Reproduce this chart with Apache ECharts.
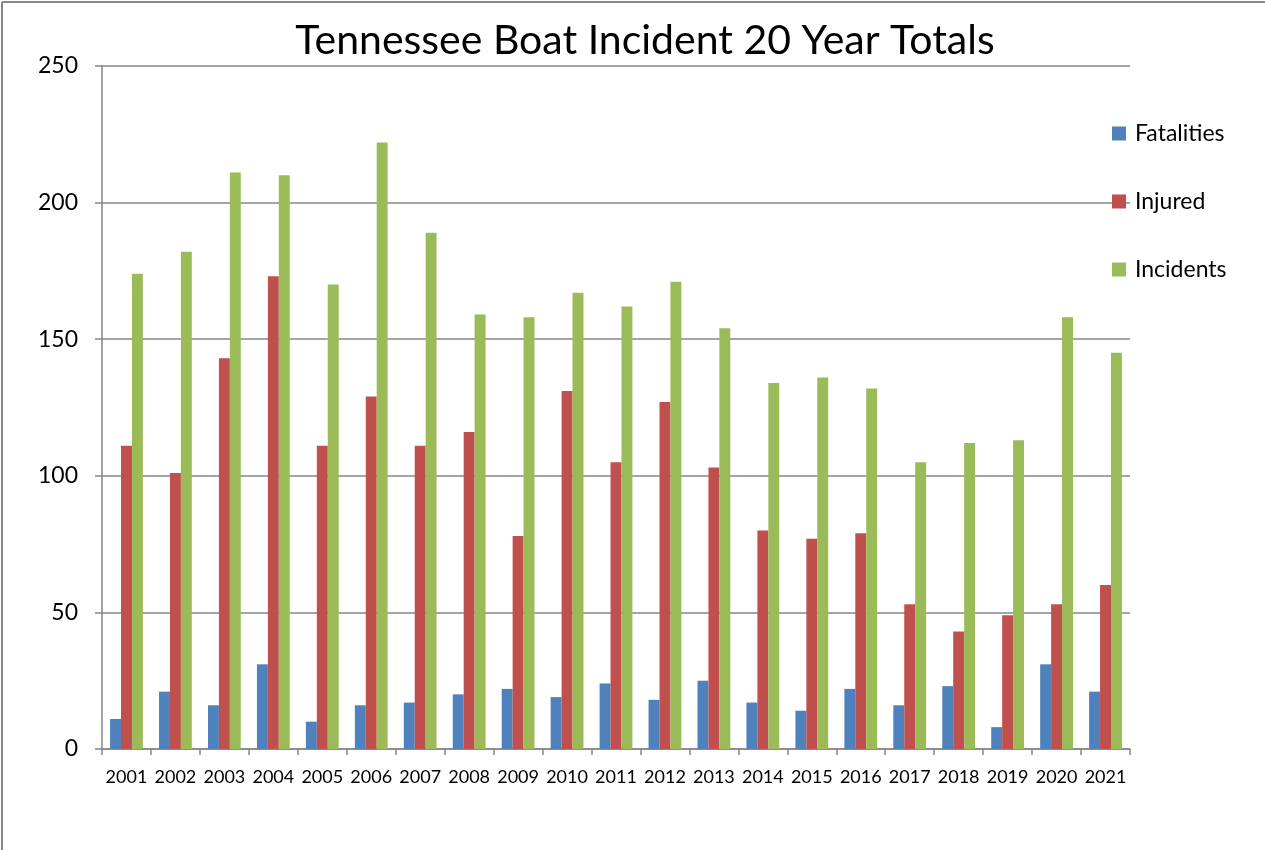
<!DOCTYPE html>
<html>
<head>
<meta charset="utf-8">
<script src="https://cdn.jsdelivr.net/npm/echarts@6/dist/echarts.min.js"></script>
<style>
html,body{margin:0;padding:0;background:#fff;}
#chart{width:1265px;height:850px;}
</style>
</head>
<body>
<div id="chart"></div>
<script>
const titleText = 'Tennessee Boat Incident 20 Year Totals';
const years = ['2001','2002','2003','2004','2005','2006','2007','2008','2009','2010','2011','2012','2013','2014','2015','2016','2017','2018','2019','2020','2021'];
const fatalities = [11,21,16,31,10,16,17,20,22,19,24,18,25,17,14,22,16,23,8,31,21];
const injured = [111,101,143,173,111,129,111,116,78,131,105,127,103,80,77,79,53,43,49,53,60];
const incidents = [174,182,211,210,170,222,189,159,158,167,162,171,154,134,136,132,105,112,113,158,145];
const yMin = 0, yMax = 250, yStep = 50;

const FONT = 'Lato';
const chart = echarts.init(document.getElementById('chart'));
const axisGray = '#868686';
chart.setOption({
  animation: false,
  backgroundColor: '#fff',
  title: {
    text: titleText,
    left: 640, top: 15, textAlign: 'center',
    textStyle: {fontFamily: FONT, fontSize: 41, fontWeight: 'normal', color: '#000'}
  },
  legend: {
    orient: 'vertical',
    left: 1107, top: 117,
    itemWidth: 14, itemHeight: 14, itemGap: 45,
    icon: 'rect',
    textStyle: {fontFamily: FONT, fontSize: 23, color: '#000', padding: [0,0,0,4]},
    data: ['Fatalities','Injured','Incidents']
  },
  grid: {left: 102, top: 66, right: 135, bottom: 101, containLabel: false},
  xAxis: {
    type: 'category',
    data: years,
    axisLine: {show: true, lineStyle: {color: axisGray, width: 1.5}},
    axisTick: {show: true, length: 6, lineStyle: {color: axisGray, width: 1.5}},
    axisLabel: {fontFamily: FONT, fontSize: 18, color: '#000', margin: 19, interval: 0}
  },
  yAxis: {
    type: 'value',
    min: yMin, max: yMax, interval: yStep,
    axisLine: {show: true, lineStyle: {color: axisGray, width: 1.5}},
    axisTick: {show: true, length: 7, lineStyle: {color: axisGray, width: 1.5}},
    axisLabel: {fontFamily: FONT, fontSize: 23, color: '#000', margin: 24},
    splitLine: {show: true, lineStyle: {color: axisGray, width: 1.5}}
  },
  series: [
    {name: 'Fatalities', type: 'bar', data: fatalities, barGap: '0%', barCategoryGap: '33%', itemStyle: {color: '#4F81BD'}},
    {name: 'Injured', type: 'bar', data: injured, barGap: '0%', barCategoryGap: '33%', itemStyle: {color: '#C0504D'}},
    {name: 'Incidents', type: 'bar', data: incidents, barGap: '0%', barCategoryGap: '33%', itemStyle: {color: '#9BBB59'}}
  ],
  graphic: [
    {type: 'line', shape: {x1: 2, y1: 2, x2: 2, y2: 850}, style: {stroke: '#888', lineWidth: 2}},
    {type: 'line', shape: {x1: 2, y1: 2, x2: 1265, y2: 2}, style: {stroke: '#888', lineWidth: 2}}
  ]
});
</script>
</body>
</html>
